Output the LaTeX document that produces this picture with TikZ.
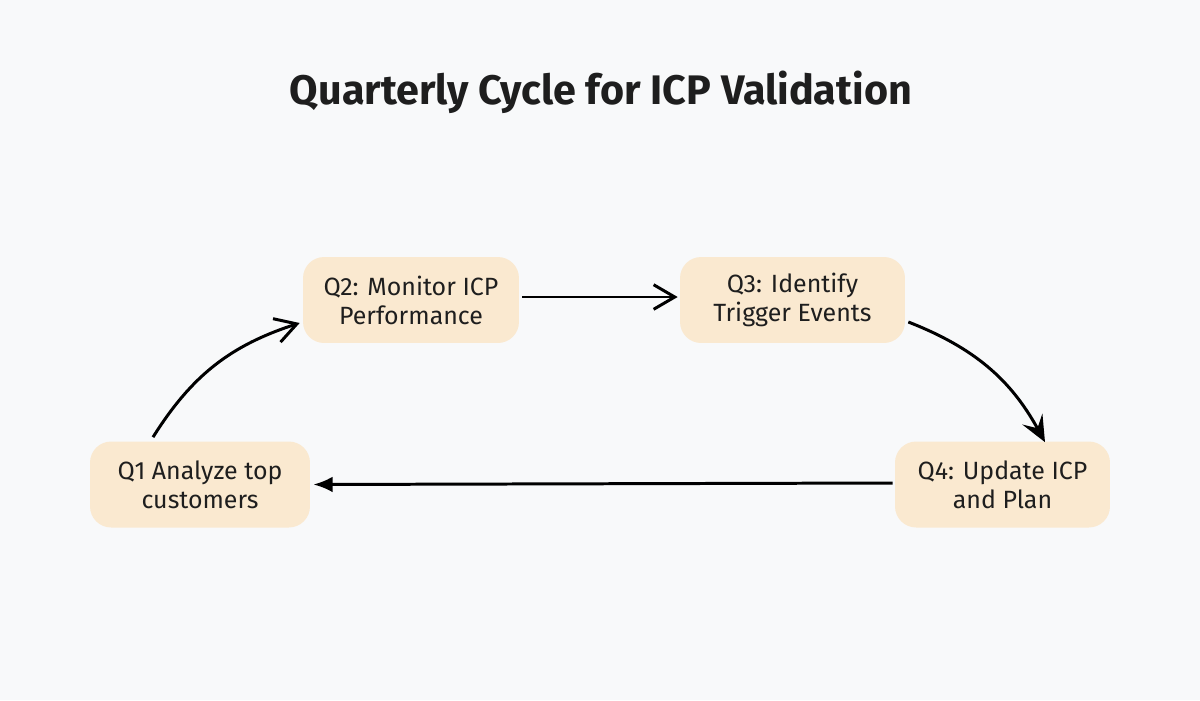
\documentclass[tikz,border=0pt]{standalone}
\usepackage{fontspec}
\setmainfont{Fira Sans}
\usetikzlibrary{arrows.meta,positioning}
\definecolor{bgpaper}{RGB}{248,249,250}
\definecolor{beige}{RGB}{250,233,208}
\definecolor{ink}{RGB}{30,30,30}

\begin{document}
\begin{tikzpicture}[x=0.02cm,y=-0.02cm,
  stage/.style={draw=none,fill=beige,rounded corners=12pt,align=center,
    minimum height=1.72cm,font=\fontsize{14.2}{16.5}\selectfont,text=ink},
  flow/.style={line width=1.7pt,black}]
\fill[bgpaper] (0,0) rectangle (1200,700);
\useasboundingbox (0,0) rectangle (1200,700);
\node[font=\fontsize{23.5}{28}\selectfont\bfseries,text=ink] (title) at (601,92) {Quarterly Cycle for ICP Validation};
\node[stage,minimum width=4.4cm] (q1) at (200,484.5) {Q1 Analyze top\\customers};
\node[stage,minimum width=4.32cm] (q2) at (411,300) {Q2: Monitor ICP\\Performance};
\node[stage,minimum width=4.5cm] (q3) at (792.5,300) {Q3: Identify\\Trigger Events};
\node[stage,minimum width=4.3cm] (q4) at (1002.5,484.5) {Q4: Update ICP\\and Plan};
\draw[flow,-{Straight Barb[length=12pt,width=14pt]}] ([xshift=-0.94cm,yshift=0.08cm]q1.north) to[bend left=20] ([xshift=-0.06cm,yshift=-0.46cm]q2.west);
\draw[flow,-{Straight Barb[length=12pt,width=14pt]}] ([xshift=0.06cm,yshift=0.06cm]q2.east) -- ([xshift=-0.04cm,yshift=0.06cm]q3.west);
\draw[flow,-{Stealth[length=15pt,width=13pt,inset=6pt]}] ([xshift=0.06cm,yshift=-0.44cm]q3.east) to[bend left=20] ([xshift=0.85cm,yshift=-0.02cm]q4.north);
\draw[flow,-{Latex[length=11pt,width=9pt]}] ([xshift=-0.04cm,yshift=0.03cm]q4.west) -- ([xshift=0.06cm]q1.east);
\end{tikzpicture}
\end{document}
